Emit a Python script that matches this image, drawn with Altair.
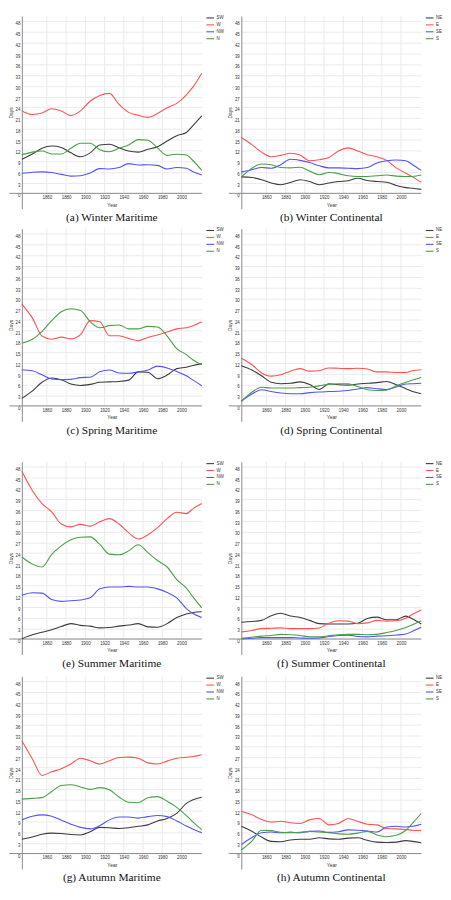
import altair as alt
import pandas as pd

# ---------------- data ----------------
YEARS = [1834, 1845, 1855, 1865, 1875, 1885, 1895, 1905, 1915, 1925,
         1935, 1945, 1955, 1965, 1975, 1985, 1995, 2005, 2012, 2021]
TICK_YEARS = [1860, 1880, 1900, 1920, 1940, 1960, 1980, 2000]
DAY_TICKS = list(range(0, 49, 3))

MARITIME = ["SW", "W", "NW", "N"]
CONTINENTAL = ["NE", "E", "SE", "S"]

# Winter Maritime
WM_SW = [9.5, 11.0, 12.6, 13.2, 12.8, 11.3, 10.2, 11.3, 13.5, 13.7, 12.7, 11.8, 11.5, 12.3, 13.0, 14.6, 16.1, 17.0, 19.0, 21.6]
WM_W = [23.0, 22.0, 22.4, 23.6, 23.0, 21.7, 23.0, 25.7, 27.3, 27.9, 24.8, 22.6, 21.8, 21.2, 22.3, 23.9, 25.1, 27.5, 29.7, 33.5]
WM_NW = [5.6, 5.9, 6.0, 5.8, 5.3, 4.8, 4.9, 5.7, 6.9, 6.8, 7.2, 8.3, 7.9, 8.0, 7.8, 6.8, 7.2, 7.0, 6.0, 5.1]
WM_N = [10.8, 11.5, 11.8, 11.0, 11.0, 12.6, 14.0, 14.0, 12.2, 11.6, 12.6, 13.5, 15.0, 14.8, 12.7, 10.6, 10.9, 10.7, 9.1, 6.4]

# Winter Continental
WC_NE = [4.6, 4.4, 3.8, 2.9, 2.4, 3.0, 3.8, 3.3, 2.4, 2.9, 3.3, 3.5, 4.2, 3.6, 3.3, 3.1, 2.2, 1.6, 1.4, 1.1]
WC_E = [15.6, 13.6, 11.5, 10.2, 10.6, 11.2, 10.7, 9.1, 9.4, 10.0, 11.8, 12.7, 11.8, 10.8, 10.2, 9.2, 7.1, 5.6, 4.6, 3.1]
WC_SE = [6.0, 6.6, 7.2, 7.0, 8.0, 9.5, 9.2, 8.6, 7.7, 7.1, 7.1, 7.0, 6.9, 7.2, 8.5, 9.1, 9.3, 9.1, 8.0, 6.4]
WC_S = [4.5, 7.0, 8.2, 8.0, 7.2, 7.1, 7.3, 6.2, 5.2, 5.8, 5.5, 4.9, 4.7, 4.7, 4.9, 5.1, 4.8, 4.7, 4.7, 5.1]

# Spring Maritime
SM_SW = [2.1, 4.2, 6.6, 7.8, 7.3, 6.1, 5.7, 6.0, 6.6, 6.7, 6.8, 7.2, 9.5, 9.4, 7.6, 8.6, 10.4, 10.8, 11.3, 11.8]
SM_W = [28.4, 24.5, 19.5, 18.6, 19.2, 18.7, 19.9, 23.8, 23.5, 19.6, 19.6, 18.8, 18.2, 19.1, 19.8, 20.6, 21.5, 21.8, 22.4, 23.5]
SM_NW = [10.1, 9.8, 8.7, 7.5, 7.3, 7.4, 7.9, 8.0, 9.5, 10.0, 9.2, 9.1, 9.5, 10.0, 11.1, 10.6, 9.6, 8.4, 7.2, 5.6]
SM_N = [17.5, 18.6, 20.8, 23.8, 26.3, 27.1, 26.6, 23.5, 21.8, 22.4, 22.6, 21.5, 21.5, 22.2, 22.0, 19.5, 16.0, 14.3, 12.8, 11.5]

# Spring Continental
SC_NE = [11.2, 10.0, 8.4, 6.6, 6.2, 6.3, 6.7, 6.0, 4.6, 6.2, 5.9, 5.8, 6.1, 6.3, 6.5, 6.8, 5.9, 4.8, 4.0, 3.4]
SC_E = [13.3, 11.5, 9.2, 8.3, 8.7, 9.7, 10.4, 9.7, 9.8, 10.6, 10.5, 10.4, 10.5, 10.3, 9.5, 9.5, 9.3, 9.3, 9.8, 10.1]
SC_SE = [1.3, 3.3, 4.5, 4.0, 3.6, 3.4, 3.4, 3.7, 3.9, 4.0, 4.1, 4.3, 4.7, 5.1, 4.8, 4.6, 5.3, 6.1, 6.2, 6.3]
SC_S = [1.3, 3.8, 5.2, 5.0, 5.0, 5.0, 5.1, 5.2, 5.6, 6.0, 6.2, 6.2, 5.4, 4.5, 4.3, 4.4, 5.6, 6.6, 7.2, 7.9]

# Summer Maritime
UM_SW = [0.1, 1.2, 1.9, 2.6, 3.5, 4.3, 3.8, 3.6, 3.1, 3.2, 3.6, 3.9, 4.3, 3.4, 3.3, 4.3, 6.0, 7.0, 7.4, 7.6]
UM_W = [46.8, 41.4, 37.8, 35.5, 32.1, 31.3, 32.0, 31.5, 32.7, 33.6, 32.1, 29.7, 27.9, 29.1, 31.1, 33.6, 35.4, 35.0, 36.4, 37.8]
UM_NW = [12.2, 12.9, 12.8, 11.0, 10.5, 10.7, 10.9, 11.5, 14.0, 14.5, 14.5, 14.7, 14.5, 14.5, 14.0, 13.0, 11.5, 8.5, 7.1, 6.0]
UM_N = [22.9, 20.9, 20.1, 23.6, 26.0, 27.7, 28.4, 28.5, 26.4, 23.7, 23.5, 24.6, 26.3, 24.1, 21.9, 20.1, 16.6, 14.2, 11.7, 8.7]

# Summer Continental
UC_NE = [4.7, 4.9, 5.2, 6.5, 7.2, 6.4, 6.0, 5.2, 4.3, 4.2, 4.2, 4.2, 4.4, 5.7, 6.1, 5.4, 5.4, 6.4, 5.6, 4.2]
UC_E = [2.0, 2.4, 2.9, 3.0, 3.1, 2.9, 2.9, 2.9, 3.1, 4.4, 5.1, 5.0, 4.3, 4.5, 5.2, 5.0, 5.1, 5.8, 6.9, 8.1]
UC_SE = [0.0, 0.2, 0.4, 0.4, 0.4, 0.4, 0.3, 0.2, 0.3, 0.7, 1.0, 1.1, 0.7, 0.6, 0.8, 0.9, 1.1, 1.4, 2.2, 3.3]
UC_S = [0.2, 0.5, 0.8, 1.0, 1.3, 1.2, 1.0, 0.6, 0.6, 0.9, 1.2, 1.3, 1.3, 1.2, 1.3, 1.8, 2.4, 3.2, 4.0, 5.1]

# Autumn Maritime
AM_SW = [4.0, 4.6, 5.4, 5.7, 5.6, 5.3, 5.2, 6.1, 7.3, 7.2, 7.0, 7.2, 7.6, 8.0, 9.1, 9.8, 11.2, 14.0, 15.0, 15.7]
AM_W = [31.5, 26.4, 21.8, 22.8, 23.7, 25.0, 26.6, 25.9, 25.0, 25.9, 26.8, 26.9, 26.6, 25.3, 25.0, 25.8, 26.6, 26.9, 27.1, 27.6]
AM_NW = [9.4, 10.4, 10.8, 10.4, 9.3, 8.2, 7.3, 6.9, 7.8, 9.4, 10.2, 10.2, 9.9, 10.3, 10.6, 10.3, 9.1, 7.7, 6.8, 5.8]
AM_N = [15.2, 15.4, 15.6, 17.3, 19.0, 19.2, 18.6, 17.9, 18.4, 17.8, 15.8, 14.3, 14.2, 15.6, 15.9, 14.6, 12.9, 10.6, 8.8, 6.7]

# Autumn Continental
AC_NE = [7.6, 6.2, 4.6, 3.4, 3.3, 3.8, 4.0, 4.0, 4.4, 4.1, 4.0, 4.3, 4.4, 3.7, 3.2, 3.1, 3.2, 3.6, 3.4, 3.0]
AC_E = [11.8, 10.8, 9.5, 8.8, 9.0, 8.6, 8.4, 9.4, 9.8, 8.0, 8.4, 9.8, 9.0, 8.2, 8.0, 7.0, 6.9, 6.7, 6.5, 6.4]
AC_SE = [2.5, 4.5, 5.8, 6.0, 5.8, 6.0, 5.8, 6.2, 6.3, 5.9, 6.1, 6.6, 6.5, 6.3, 6.0, 7.4, 7.6, 7.4, 7.6, 8.2]
AC_S = [1.0, 3.5, 6.5, 6.4, 5.9, 5.8, 5.9, 6.2, 6.0, 5.8, 5.5, 5.4, 5.7, 6.2, 5.2, 4.7, 5.1, 6.5, 8.5, 11.2]

CAPTIONS = ["(a) Winter Maritime", "(b) Winter Continental",
            "(c) Spring Maritime", "(d) Spring Continental",
            "(e) Summer Maritime", "(f) Summer Continental",
            "(g) Autumn Maritime", "(h) Autumn Continental"]

# ---------------- styling ----------------
COLORS = ["#3c3c3c", "#ff5252", "#5252ff", "#48a048"]
X_DOMAIN = [1834, 2021]
Y_DOMAIN = [-4.3, 49.5]
W_PANEL = 182
H_PANEL = 195
X_AXIS_OFFSET = -15.6
FONT = "Liberation Sans"
TXT = "#333333"
GRID = "#ebebeb"
AXIS_LINE = "#8c8c8c"

X_AXIS = alt.Axis(values=TICK_YEARS, format="d", grid=False, domain=False, ticks=False,
                  offset=X_AXIS_OFFSET, labelFontSize=4.5, labelPadding=1.5, labelColor=TXT,
                  labelFont=FONT, labelOverlap=False, labelFlush=False,
                  titleFontSize=5, titlePadding=3, titleColor=TXT, titleFont=FONT,
                  titleFontWeight="normal")
Y_AXIS = alt.Axis(values=DAY_TICKS, grid=True, gridColor=GRID, gridWidth=1,
                  domain=True, domainColor=AXIS_LINE, domainWidth=1, ticks=False,
                  labelFontSize=4.5, labelPadding=2, labelBaseline="middle", labelOffset=2.5,
                  labelColor=TXT, labelFont=FONT, labelOverlap=False,
                  titleFontSize=5, titlePadding=1.5, titleColor=TXT, titleFont=FONT,
                  titleFontWeight="normal")


def xenc(field):
    return alt.X(field, type="quantitative", title="Year",
                 scale=alt.Scale(domain=X_DOMAIN, nice=False, zero=False), axis=X_AXIS)


def yenc(field):
    return alt.Y(field, type="quantitative", title="Days",
                 scale=alt.Scale(domain=Y_DOMAIN, nice=False, zero=False), axis=Y_AXIS)


def panel(caption, names, series):
    rows = []
    for name, vals in zip(names, series):
        for yr, v in zip(YEARS, vals):
            rows.append({"year": yr, "days": v, "dir": name})
    df = pd.DataFrame(rows)

    grid_df = pd.DataFrame({"year": TICK_YEARS, "lo": [0] * len(TICK_YEARS),
                            "hi": [49.5] * len(TICK_YEARS)})
    grid = alt.Chart(grid_df).mark_rule(color=GRID, strokeWidth=1).encode(
        x=xenc("year"), y=yenc("lo"), y2="hi")

    zero_df = pd.DataFrame({"x0": [1821], "x1": [2021], "y": [0]})
    zero = alt.Chart(zero_df).mark_rule(color=AXIS_LINE, strokeWidth=1).encode(
        x=xenc("x0"), x2="x1", y=yenc("y"))

    legend = alt.Legend(orient="none", legendX=W_PANEL + 4, legendY=-2.5, title=None,
                        symbolType="stroke", symbolSize=60, symbolStrokeWidth=1.1,
                        labelFontSize=4.5, labelFont=FONT, labelColor=TXT,
                        labelOffset=2, rowPadding=0, padding=0)
    lines = alt.Chart(df).mark_line(interpolate="monotone", strokeWidth=1.1).encode(
        x=xenc("year"), y=yenc("days"),
        color=alt.Color("dir:N", scale=alt.Scale(domain=names, range=COLORS),
                        legend=legend, sort=names))

    return alt.layer(grid, zero, lines).properties(
        width=W_PANEL, height=H_PANEL,
        title=alt.TitleParams(text=caption, orient="bottom", anchor="middle", offset=3.5,
                              font="Liberation Serif", fontSize=11.5,
                              fontWeight="normal", color="#111111"))


p = [
    panel(CAPTIONS[0], MARITIME, [WM_SW, WM_W, WM_NW, WM_N]),
    panel(CAPTIONS[1], CONTINENTAL, [WC_NE, WC_E, WC_SE, WC_S]),
    panel(CAPTIONS[2], MARITIME, [SM_SW, SM_W, SM_NW, SM_N]),
    panel(CAPTIONS[3], CONTINENTAL, [SC_NE, SC_E, SC_SE, SC_S]),
    panel(CAPTIONS[4], MARITIME, [UM_SW, UM_W, UM_NW, UM_N]),
    panel(CAPTIONS[5], CONTINENTAL, [UC_NE, UC_E, UC_SE, UC_S]),
    panel(CAPTIONS[6], MARITIME, [AM_SW, AM_W, AM_NW, AM_N]),
    panel(CAPTIONS[7], CONTINENTAL, [AC_NE, AC_E, AC_SE, AC_S]),
]


def row(a, b):
    return alt.hconcat(a, b, spacing=3).resolve_scale(color="independent")


r1, r2, r3, r4 = row(p[0], p[1]), row(p[2], p[3]), row(p[4], p[5]), row(p[6], p[7])
inner3 = alt.vconcat(r3, r4, spacing=4).resolve_scale(color="independent")
inner2 = alt.vconcat(r2, inner3, spacing=22.8).resolve_scale(color="independent")
chart = alt.vconcat(r1, inner2, spacing=2).resolve_scale(color="independent").properties(
    padding=0).configure_view(stroke=None)

chart.save("out.html", embed_options={"renderer": "svg", "actions": False})
